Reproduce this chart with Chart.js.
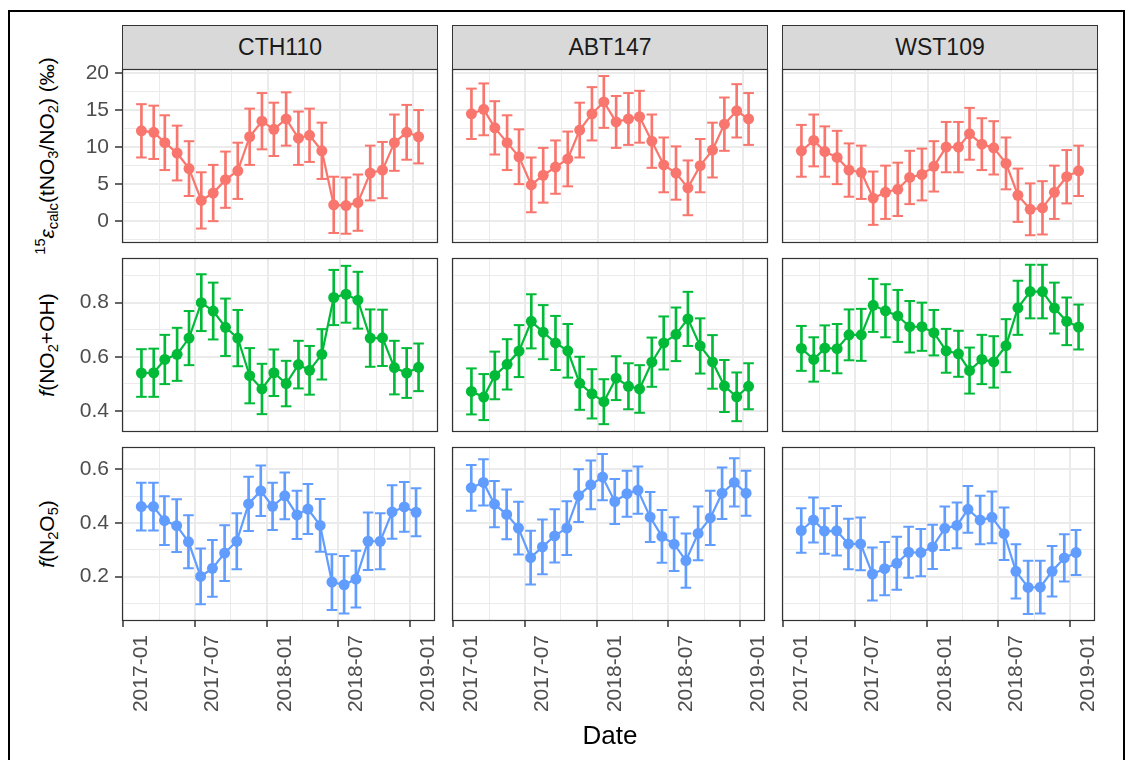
<!DOCTYPE html>
<html><head><meta charset="utf-8">
<script src="https://cdn.jsdelivr.net/npm/chart.js@4.4.1/dist/chart.umd.min.js"></script>
<style>
body{margin:0;background:#fff;}
#wrap{position:relative;width:1126px;height:760px;overflow:hidden;background:#fff;font-family:"Liberation Sans",Arial,Helvetica,sans-serif;}
.frame{position:absolute;left:8px;top:10px;width:1117px;height:790px;border:2px solid #000;box-sizing:border-box;}
.strip{position:absolute;background:#D9D9D9;border:1px solid #333;box-sizing:border-box;color:#1A1A1A;font-size:23px;display:flex;align-items:center;justify-content:center;}
canvas{position:absolute;}
.ytitle{position:absolute;white-space:nowrap;font-size:21px;color:#000;transform:translate(-50%,-50%) rotate(-90deg);}
.ytitle sub,.ytitle sup{font-size:70%;line-height:0;}
.ytitle sub{vertical-align:-0.3em;}
.ytitle sup{vertical-align:0.6em;}
.xtitle{position:absolute;font-size:26px;color:#000;transform:translate(-50%,-50%);white-space:nowrap;}
</style></head>
<body><div id="wrap"><div class="frame"></div></div>
<script>
// ---------------- data ----------------
const sites = ['CTH110', 'ABT147', 'WST109'];
const months = ['2017-01','2017-02','2017-03','2017-04','2017-05','2017-06','2017-07','2017-08','2017-09','2017-10','2017-11','2017-12',
                '2018-01','2018-02','2018-03','2018-04','2018-05','2018-06','2018-07','2018-08','2018-09','2018-10','2018-11','2018-12'];
const xTickLabels = ['2017-01','2017-07','2018-01','2018-07','2019-01'];

const epsCTH110 = [12.2, 12.0, 10.6, 9.2, 7.1, 2.8, 3.8, 5.6, 6.8, 11.4, 13.5, 12.4, 13.8, 11.2, 11.6, 9.5, 2.2, 2.1, 2.5, 6.5, 6.9, 10.6, 12.0, 11.4];
const epsErrCTH110 = [3.6,3.6,3.7,3.7,3.7,3.8,3.8,3.8,3.8,3.8,3.8,3.6,3.6,3.6,3.6,3.8,3.8,3.8,3.8,3.7,3.8,3.8,3.7,3.6];
const epsABT147 = [14.5, 15.1, 12.6, 10.6, 8.7, 4.9, 6.2, 7.3, 8.4, 12.3, 14.5, 16.1, 13.4, 13.8, 14.1, 10.8, 7.6, 6.5, 4.5, 7.5, 9.6, 13.1, 14.9, 13.8];
const epsErrABT147 = [3.4,3.5,3.6,3.7,3.7,3.7,3.7,3.6,3.7,3.7,3.6,3.5,3.5,3.5,3.5,3.6,3.7,3.6,3.7,3.6,3.7,3.6,3.6,3.5];
const epsWST109 = [9.5, 10.9, 9.4, 8.6, 6.9, 6.6, 3.1, 3.9, 4.3, 5.9, 6.3, 7.4, 10.0, 10.0, 11.8, 10.4, 9.9, 7.8, 3.5, 1.6, 1.8, 3.9, 6.0, 6.8];
const epsErrWST109 = [3.5,3.5,3.4,3.6,3.6,3.6,3.6,3.6,3.6,3.6,3.5,3.4,3.4,3.4,3.5,3.5,3.6,3.5,3.6,3.5,3.6,3.6,3.6,3.4];

const fOhCTH110 = [0.540,0.541,0.590,0.609,0.669,0.800,0.769,0.709,0.669,0.530,0.481,0.541,0.501,0.571,0.550,0.609,0.819,0.831,0.809,0.669,0.670,0.560,0.540,0.561];
const fOhErrCTH110 = [0.088,0.089,0.091,0.098,0.100,0.105,0.105,0.106,0.104,0.102,0.093,0.086,0.084,0.088,0.090,0.093,0.102,0.105,0.105,0.106,0.104,0.099,0.092,0.088];
const fOhABT147 = [0.472,0.451,0.531,0.572,0.621,0.731,0.691,0.651,0.622,0.502,0.463,0.434,0.521,0.491,0.481,0.580,0.651,0.683,0.740,0.640,0.581,0.492,0.452,0.491];
const fOhErrABT147 = [0.085,0.085,0.088,0.093,0.096,0.100,0.100,0.100,0.099,0.098,0.091,0.083,0.081,0.085,0.088,0.091,0.098,0.099,0.100,0.102,0.099,0.096,0.090,0.085];
const fOhWST109 = [0.631,0.590,0.632,0.630,0.681,0.681,0.790,0.770,0.751,0.711,0.711,0.689,0.622,0.611,0.549,0.590,0.581,0.641,0.781,0.841,0.841,0.780,0.731,0.710];
const fOhErrWST109 = [0.083,0.082,0.084,0.091,0.094,0.096,0.098,0.098,0.096,0.095,0.089,0.084,0.081,0.085,0.085,0.091,0.095,0.098,0.100,0.099,0.099,0.094,0.088,0.083];

const fN2o5CTH110 = [0.461,0.461,0.409,0.390,0.330,0.201,0.231,0.288,0.332,0.471,0.520,0.462,0.501,0.430,0.452,0.391,0.180,0.170,0.191,0.332,0.332,0.441,0.460,0.440];
const fN2o5ErrCTH110 = [0.089,0.089,0.091,0.098,0.099,0.104,0.106,0.104,0.104,0.101,0.094,0.088,0.087,0.090,0.093,0.098,0.104,0.107,0.106,0.107,0.104,0.100,0.093,0.089];
const fN2o5ABT147 = [0.531,0.551,0.470,0.432,0.381,0.271,0.311,0.352,0.381,0.502,0.542,0.571,0.480,0.509,0.522,0.422,0.350,0.321,0.260,0.361,0.419,0.511,0.551,0.511];
const fN2o5ErrABT147 = [0.085,0.086,0.086,0.093,0.098,0.100,0.102,0.099,0.100,0.098,0.091,0.086,0.084,0.086,0.088,0.093,0.098,0.100,0.101,0.100,0.101,0.096,0.090,0.084];
const fN2o5WST109 = [0.372,0.411,0.370,0.371,0.322,0.322,0.210,0.230,0.250,0.291,0.290,0.311,0.380,0.391,0.451,0.411,0.421,0.360,0.220,0.160,0.161,0.220,0.270,0.290];
const fN2o5ErrWST109 = [0.083,0.084,0.085,0.092,0.094,0.098,0.099,0.099,0.099,0.095,0.088,0.082,0.081,0.085,0.087,0.090,0.096,0.098,0.101,0.099,0.098,0.094,0.088,0.084];

const epsTicks = [0, 5, 10, 15, 20];
const epsTickLabels = ['0', '5', '10', '15', '20'];
const epsMinor = [-2.5, 2.5, 7.5, 12.5, 17.5];
const epsLimits = [-2.95, 20.55];
const fOhTicks = [0.4, 0.6, 0.8];
const fOhTickLabels = ['0.4', '0.6', '0.8'];
const fOhMinor = [0.5, 0.7, 0.9];
const fOhLimits = [0.322, 0.965];
const fN2o5Ticks = [0.2, 0.4, 0.6];
const fN2o5TickLabels = ['0.2', '0.4', '0.6'];
const fN2o5Minor = [0.1, 0.3, 0.5];
const fN2o5Limits = [0.035, 0.683];

// ---------------- layout / style ----------------
const FONT = "'Liberation Sans', Arial, Helvetica, sans-serif";
const L = [122, 452, 782], T = [69, 258, 447], W = 316, H = 174;
const PAD = 24, YW = 60, XH = 110;
const colors = ['#F8766D', '#00BA38', '#619CFF'];
const xMin = -49, xMax = 748;

const dayOffset = s => (Date.UTC(+s.slice(0, 4), +s.slice(5, 7) - 1, 1) - Date.UTC(2017, 0, 1)) / 864e5;
const xs = months.map(dayOffset);
const xMajor = xTickLabels.map(dayOffset);
const xMinor = xMajor.slice(1).map((v, i) => (v + xMajor[i]) / 2);

const rowsDef = [
  {vals: [epsCTH110, epsABT147, epsWST109], errs: [epsErrCTH110, epsErrABT147, epsErrWST109], ticks: epsTicks, labels: epsTickLabels, minor: epsMinor, lim: epsLimits,
   title: '<sup>15</sup><i>ε</i><sub>calc</sub>(tNO<sub>3</sub>/NO<sub>2</sub>) (‰)'},
  {vals: [fOhCTH110, fOhABT147, fOhWST109], errs: [fOhErrCTH110, fOhErrABT147, fOhErrWST109], ticks: fOhTicks, labels: fOhTickLabels, minor: fOhMinor, lim: fOhLimits,
   title: '<i>f</i>(NO<sub>2</sub>+OH)'},
  {vals: [fN2o5CTH110, fN2o5ABT147, fN2o5WST109], errs: [fN2o5ErrCTH110, fN2o5ErrABT147, fN2o5ErrWST109], ticks: fN2o5Ticks, labels: fN2o5TickLabels, minor: fN2o5Minor, lim: fN2o5Limits,
   title: '<i>f</i>(N<sub>2</sub>O<sub>5</sub>)'}
];

const wrap = document.getElementById('wrap');
const near = (a, b) => Math.abs(a - b) < 1e-6;

const panelBorder = {
  id: 'panelBorder',
  afterDraw(chart) {
    const {ctx, chartArea: a} = chart;
    ctx.save();
    ctx.strokeStyle = '#333333';
    ctx.lineWidth = 1.2;
    ctx.strokeRect(Math.round(a.left) + 0.5, Math.round(a.top) + 0.5, Math.round(a.right - a.left) - 1, Math.round(a.bottom - a.top) - 1);
    ctx.restore();
  }
};

// strips
sites.forEach((s, c) => {
  const d = document.createElement('div');
  d.className = 'strip';
  d.style.left = L[c] + 'px'; d.style.top = '25px';
  d.style.width = W + 'px'; d.style.height = (T[0] - 25 + 1) + 'px';
  d.textContent = s;
  wrap.appendChild(d);
});

rowsDef.forEach((row, r) => {
  const t = document.createElement('div');
  t.className = 'ytitle';
  t.style.left = '47px'; t.style.top = (T[r] + H / 2) + 'px';
  t.innerHTML = row.title;
  wrap.appendChild(t);

  sites.forEach((site, c) => {
    const showY = c === 0, showX = r === 2;
    const yw = showY ? YW : 0, xh = showX ? XH : 0;
    const cv = document.createElement('canvas');
    const cw = PAD + yw + W + PAD, ch = PAD + H + xh + PAD;
    cv.width = cw; cv.height = ch;
    cv.style.width = cw + 'px'; cv.style.height = ch + 'px';
    cv.style.left = (L[c] - PAD - yw) + 'px';
    cv.style.top = (T[r] - PAD) + 'px';
    wrap.appendChild(cv);

    const col = colors[r];
    const v = row.vals[c], e = row.errs[c];
    const pts = xs.map((x, i) => ({x, y: v[i]}));
    const bars = xs.map((x, i) => ({x, y: [v[i] - e[i], v[i] + e[i]]}));
    const caps = xs.map((x, i) => ({x, y: v[i] - e[i]})).concat(xs.map((x, i) => ({x, y: v[i] + e[i]})));
    const yMajor = row.ticks, yAll = row.ticks.concat(row.minor).filter(q => q >= row.lim[0] && q <= row.lim[1]).sort((a, b) => a - b);
    const isMajY = ctx => !!(ctx.tick && yMajor.some(q => near(q, ctx.tick.value)));
    const isMajX = ctx => !!(ctx.tick && xMajor.some(q => near(q, ctx.tick.value)));
    const xAll = xMajor.concat(xMinor).filter(q => q >= xMin && q <= xMax).sort((a, b) => a - b);

    new Chart(cv, {
      type: 'line',
      data: {
        datasets: [
          {type: 'line', data: pts, borderColor: col, backgroundColor: col, borderWidth: 2.2,
           pointRadius: 5.5, pointBorderWidth: 0, pointBackgroundColor: col, order: 0},
          {type: 'line', showLine: false, data: caps, pointStyle: 'line', pointRadius: 5.3,
           pointBorderWidth: 2, pointBorderColor: col, pointBackgroundColor: col, order: 1},
          {type: 'bar', data: bars, backgroundColor: col, borderWidth: 0, barThickness: 2, order: 2}
        ]
      },
      options: {
        responsive: false, animation: false, events: [],
        layout: {padding: PAD},
        plugins: {legend: {display: false}, tooltip: {enabled: false}},
        scales: {
          x: {
            type: 'linear', min: xMin, max: xMax, offset: false,
            afterBuildTicks: s => { s.ticks = xAll.map(q => ({value: q})); },
            afterFit: s => { s.height = xh; },
            border: {display: false},
            grid: {
              color: '#EBEBEB',
              lineWidth: ctx => isMajX(ctx) ? 2 : 1,
              drawTicks: showX, tickLength: 6,
              tickColor: ctx => isMajX(ctx) ? '#333333' : 'rgba(0,0,0,0)',
              tickWidth: 1.5
            },
            ticks: {
              display: showX, autoSkip: false, minRotation: 90, maxRotation: 90, padding: 8,
              color: '#4D4D4D', font: {family: FONT, size: 21},
              callback: val => { const k = xMajor.findIndex(q => near(q, val)); return k >= 0 ? xTickLabels[k] : ''; }
            }
          },
          y: {
            type: 'linear', min: row.lim[0], max: row.lim[1],
            afterBuildTicks: s => { s.ticks = yAll.map(q => ({value: q})); },
            afterFit: s => { s.width = yw; },
            border: {display: false},
            grid: {
              color: '#EBEBEB',
              lineWidth: ctx => isMajY(ctx) ? 2 : 1,
              drawTicks: showY, tickLength: 7,
              tickColor: ctx => isMajY(ctx) ? '#333333' : 'rgba(0,0,0,0)',
              tickWidth: 1.5
            },
            ticks: {
              display: showY, autoSkip: false, padding: 6, color: '#4D4D4D', font: {family: FONT, size: 21},
              callback: val => { const k = yMajor.findIndex(q => near(q, val)); return k >= 0 ? row.labels[k] : ''; }
            }
          }
        }
      },
      plugins: [panelBorder]
    });
  });
});

const xt = document.createElement('div');
xt.className = 'xtitle';
xt.style.left = '610px'; xt.style.top = '735px';
xt.textContent = 'Date';
wrap.appendChild(xt);
</script>
</body></html>
